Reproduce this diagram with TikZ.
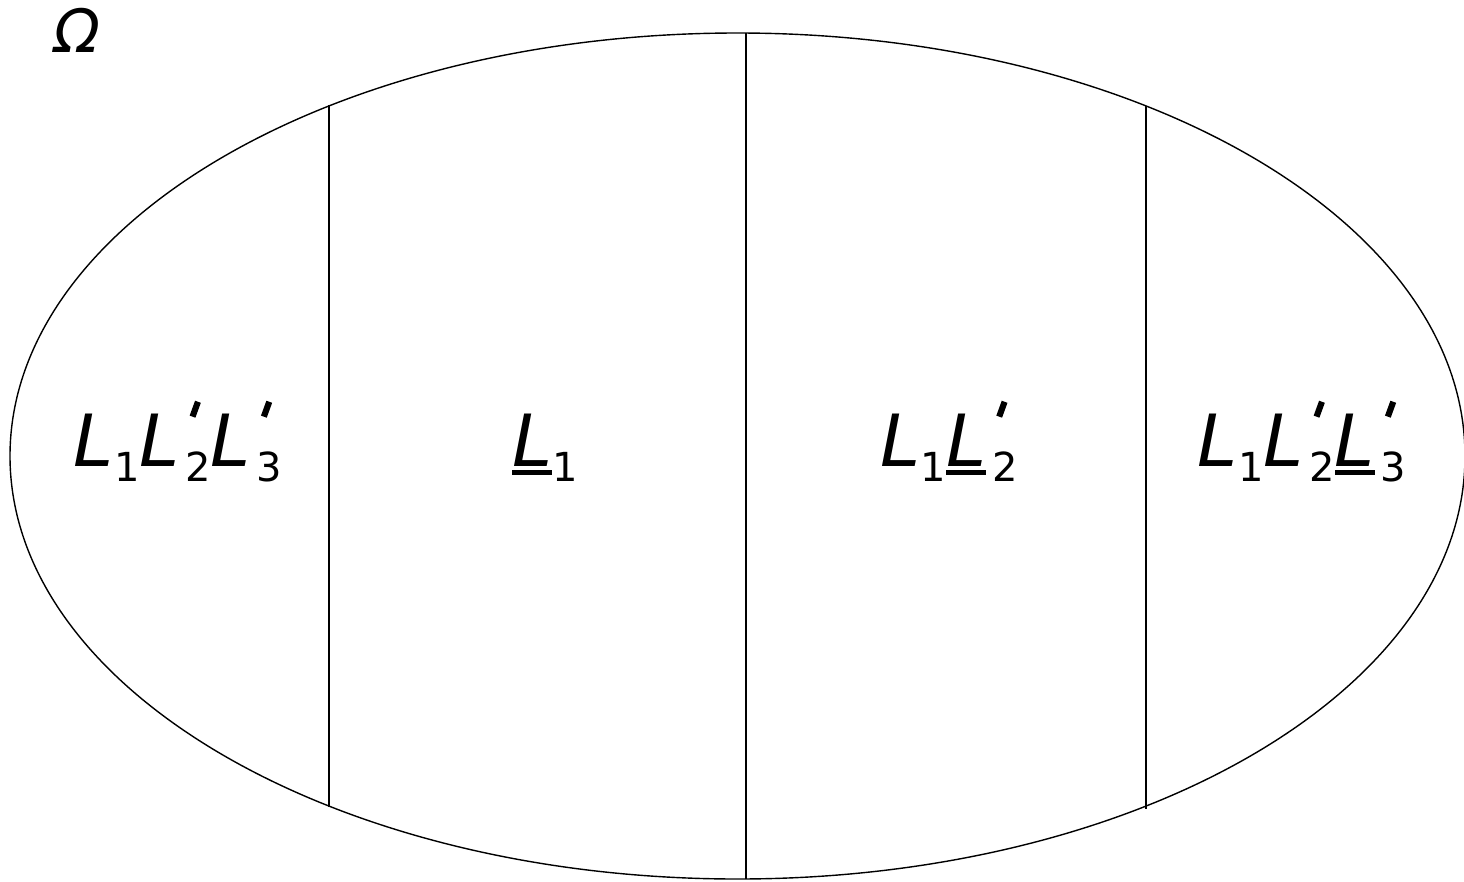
\documentclass[tikz,border=0pt]{standalone}
\usepackage{fontspec}
\usepackage{graphicx}
\setmainfont{DejaVu Sans}
\newcommand{\bigL}{\textit{L}}
\newcommand{\sbs}[1]{\raisebox{-0.22em}{\fontsize{40}{46}\selectfont #1}}
\newcommand{\prm}{\raisebox{0.7em}{\rotatebox{-20}{\rule{0.085em}{0.22em}}}}
\newcommand{\ps}[1]{\hspace{0.08em}\makebox[0pt][l]{\hspace{0.06em}\prm}\sbs{#1}}
\newcommand{\ulb}[1]{\setbox0\hbox{#1}\makebox[0pt][l]{\rule[-0.13em]{\wd0}{0.07em}}\box0}
\tikzset{
  lbl/.style={anchor=base, inner sep=0pt, font=\fontsize{72}{80}\selectfont},
  divider/.style={line width=1.4pt},
  region/.style={line width=1.4pt}
}
\begin{document}
\begin{tikzpicture}[x=1pt,y=-1pt]
\useasboundingbox (0,0) rectangle (1464,881);
\draw[region] (737.5,456) ellipse [x radius=727.5, y radius=423];
\coordinate (t1) at (329,105); \coordinate (b1) at (329,807);
\coordinate (t2) at (746,33); \coordinate (b2) at (746,879);
\coordinate (t3) at (1146,106); \coordinate (b3) at (1146,809);
\draw[divider] (t1) -- (b1);
\draw[divider] (t2) -- (b2);
\draw[divider] (t3) -- (b3);
\node[lbl] (a) at (178,466) {\bigL\sbs{1}\bigL\ps{2}\bigL\ps{3}};
\node[lbl] (b) at (545,466) {\ulb{\bigL}\sbs{1}};
\node[lbl] (c) at (949,466) {\bigL\sbs{1}\ulb{\bigL}\ps{2}};
\node[lbl] (d) at (1302,466) {\bigL\sbs{1}\bigL\ps{2}\ulb{\bigL}\ps{3}};
\node[anchor=base, inner sep=0pt, font=\fontsize{60}{66}\selectfont\itshape] (omega) at (77,52) {Ω};
\end{tikzpicture}
\end{document}
